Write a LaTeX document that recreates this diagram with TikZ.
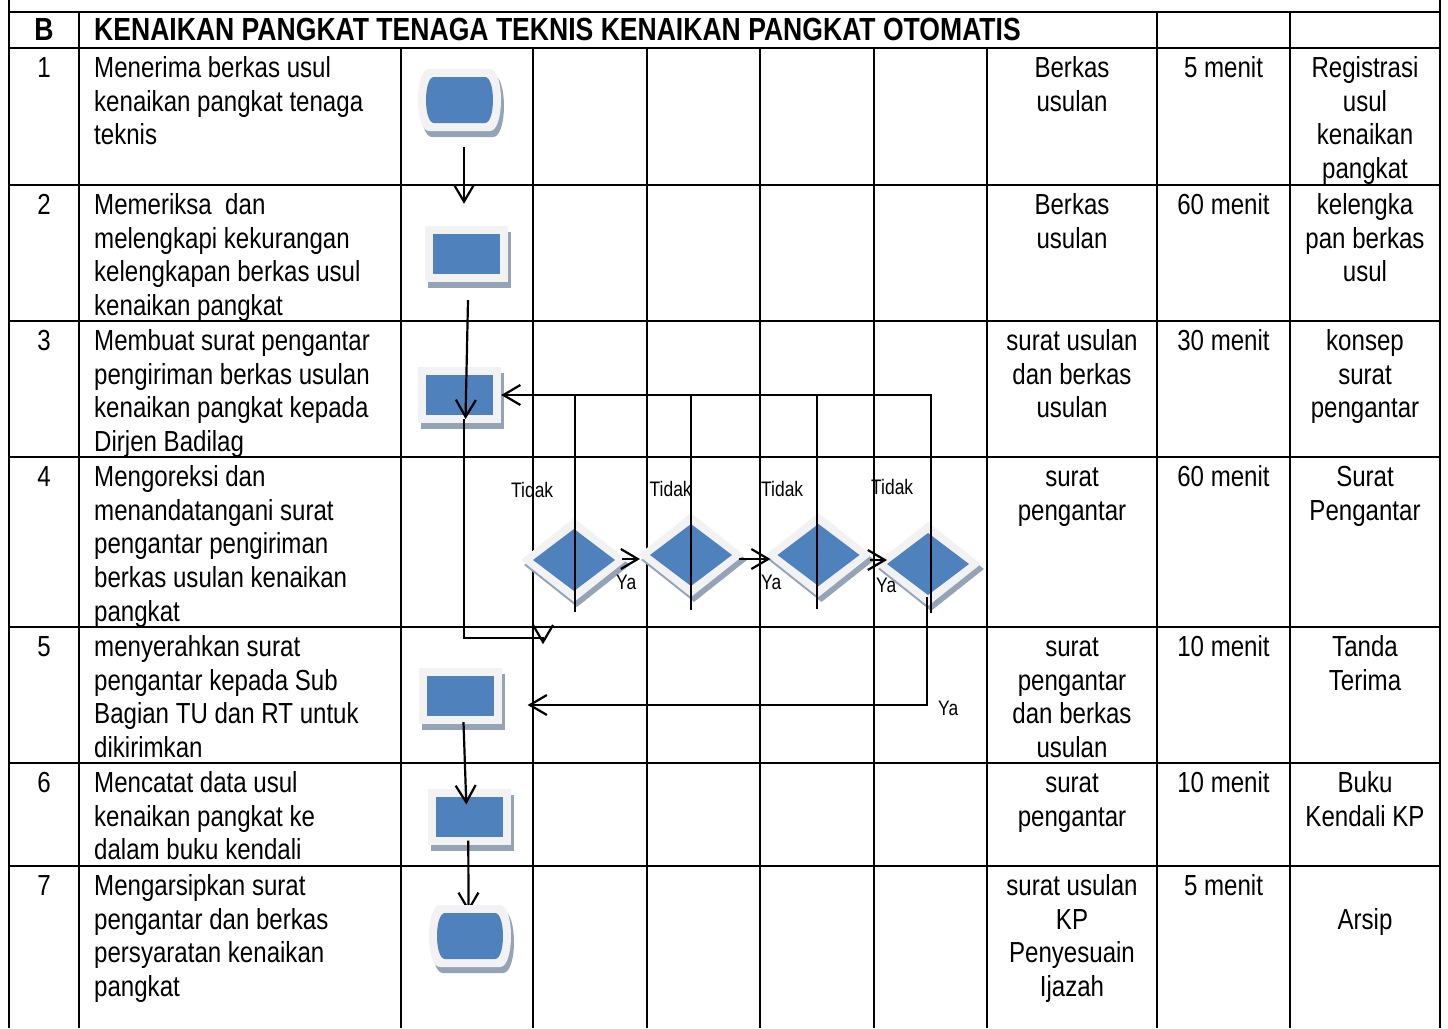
\documentclass[tikz,border=0pt]{standalone}
\usepackage{fontspec}
\setmainfont{Liberation Sans}[FakeStretch=0.83]
\usetikzlibrary{calc,shapes.geometric,shadows,arrows.meta}
\definecolor{shapeblue}{HTML}{4F81BD}
\definecolor{edgec}{HTML}{F2F2F2}
\definecolor{shadowc}{RGB}{149,163,182}
\newcommand\bodyfont{\fontsize{29pt}{33.8pt}\selectfont}
\newcommand\smallfont{\fontsize{21pt}{24pt}\selectfont}
\newcommand\headfont{\fontsize{32pt}{36pt}\selectfont\bfseries}
\newcommand\fl{\rule{0pt}{25pt}}
\newcommand\termfig[4]{%
  \fill[shadowc,shift={(3,6)}] ({#1+11},#2) -- ({#3-11},#2) .. controls ({#3+11/3},#2) and ({#3+11/3},#4) .. ({#3-11},#4) -- ({#1+11},#4) .. controls ({#1-11/3},#4) and ({#1-11/3},#2) .. ({#1+11},#2) -- cycle;
  \fill[edgec] ({#1+11},#2) -- ({#3-11},#2) .. controls ({#3+11/3},#2) and ({#3+11/3},#4) .. ({#3-11},#4) -- ({#1+11},#4) .. controls ({#1-11/3},#4) and ({#1-11/3},#2) .. ({#1+11},#2) -- cycle;
  \fill[shapeblue] ({#1+16},{#2+8}) -- ({#3-16},{#2+8}) .. controls ({#3-8+8/3},{#2+8}) and ({#3-8+8/3},{#4-8}) .. ({#3-16},{#4-8}) -- ({#1+16},{#4-8}) .. controls ({#1+8-8/3},{#4-8}) and ({#1+8-8/3},{#2+8}) .. ({#1+16},{#2+8}) -- cycle;
}
\tikzset{
  tbl/.style={line width=2.7pt},
  con/.style={line width=2.2pt,-{Straight Barb[length=17pt,width=20pt]}},
  conl/.style={line width=2.2pt},
  txtL/.style={anchor=north west,inner sep=0pt,align=left,font=\bodyfont},
  txtC/.style={anchor=north,inner sep=0pt,align=center,font=\bodyfont},
  lbl/.style={anchor=base west,inner sep=0pt,font=\smallfont},
  anchorbox/.style={rectangle,inner sep=0pt,minimum width=#1},
  procbox/.style={rectangle,inner sep=0pt,minimum width=83pt,minimum height=56pt,fill=edgec,
    drop shadow={shadow xshift=3pt,shadow yshift=-6pt,opacity=1,fill=shadowc},
    path picture={\fill[shapeblue] ([shift={(8pt,8pt)}]path picture bounding box.south west) rectangle ([shift={(-8pt,-8pt)}]path picture bounding box.north east);}},
  decbox/.style={diamond,inner sep=0pt,minimum width=106pt,minimum height=84pt,fill=edgec,
    drop shadow={shadow xshift=3pt,shadow yshift=-5pt,opacity=1,fill=shadowc},
    path picture={\fill[shapeblue] ([xshift=-41pt]path picture bounding box.center) -- ([yshift=31pt]path picture bounding box.center) -- ([xshift=41pt]path picture bounding box.center) -- ([yshift=-31pt]path picture bounding box.center) -- cycle;}},
}
\begin{document}
\begin{tikzpicture}[x=1pt,y=-1pt]
\useasboundingbox (0,0) rectangle (1448,1028);
\fill[white] (0,0) rectangle (1448,1028);
% table
\foreach \y in {12,48,185,321,457,627,763,866} \draw[tbl] (9,\y) -- (1440,\y);
\draw[tbl] (9,0) -- (9,1028);
\draw[tbl] (1440,0) -- (1440,1028);
\foreach \x in {79,1157,1290} \draw[tbl] (\x,12) -- (\x,1028);
\foreach \x in {401,533,647,760,874,987} \draw[tbl] (\x,48) -- (\x,1028);
% header
\node[anchor=base,inner sep=0pt,font=\headfont] (hb) at (44,40) {B};
\node[anchor=base west,inner sep=0pt,font=\headfont] (hd) at (94,40) {KENAIKAN PANGKAT TENAGA TEKNIS KENAIKAN PANGKAT OTOMATIS};
% numbers
\node[txtC] (k1) at (44,52) {\fl 1};
\node[txtC] (k2) at (44,189) {\fl 2};
\node[txtC] (k3) at (44,325) {\fl 3};
\node[txtC] (k4) at (44,461) {\fl 4};
\node[txtC] (k5) at (44,631) {\fl 5};
\node[txtC] (k6) at (44,767) {\fl 6};
\node[txtC] (k7) at (44,870) {\fl 7};
% descriptions
\node[txtL] (n1) at (94,52) {\fl Menerima berkas usul\\kenaikan pangkat tenaga\\teknis};
\node[txtL] (n2) at (94,189) {\fl Memeriksa~~dan\\melengkapi kekurangan\\kelengkapan berkas usul\\kenaikan pangkat};
\node[txtL] (n3) at (94,325) {\fl Membuat surat pengantar\\pengiriman berkas usulan\\kenaikan pangkat kepada\\Dirjen Badilag};
\node[txtL] (n4) at (94,461) {\fl Mengoreksi dan\\menandatangani surat\\pengantar pengiriman\\berkas usulan kenaikan\\pangkat};
\node[txtL] (n5) at (94,631) {\fl menyerahkan surat\\pengantar kepada Sub\\Bagian TU dan RT untuk\\dikirimkan};
\node[txtL] (n6) at (94,767) {\fl Mencatat data usul\\kenaikan pangkat ke\\dalam buku kendali};
\node[txtL] (n7) at (94,870) {\fl Mengarsipkan surat\\pengantar dan berkas\\persyaratan kenaikan\\pangkat};
% kelengkapan
\node[txtC] (p1) at (1072,52) {\fl Berkas\\usulan};
\node[txtC] (p2) at (1072,189) {\fl Berkas\\usulan};
\node[txtC] (p3) at (1072,325) {\fl surat usulan\\dan berkas\\usulan};
\node[txtC] (p4) at (1072,461) {\fl surat\\pengantar};
\node[txtC] (p5) at (1072,631) {\fl surat\\pengantar\\dan berkas\\usulan};
\node[txtC] (p6) at (1072,767) {\fl surat\\pengantar};
\node[txtC] (p7) at (1072,870) {\fl surat usulan\\KP\\Penyesuain\\Ijazah};
% waktu
\node[txtC] (w1) at (1223.5,52) {\fl 5 menit};
\node[txtC] (w2) at (1223.5,189) {\fl 60 menit};
\node[txtC] (w3) at (1223.5,325) {\fl 30 menit};
\node[txtC] (w4) at (1223.5,461) {\fl 60 menit};
\node[txtC] (w5) at (1223.5,631) {\fl 10 menit};
\node[txtC] (w6) at (1223.5,767) {\fl 10 menit};
\node[txtC] (w7) at (1223.5,870) {\fl 5 menit};
% output
\node[txtC] (o1) at (1365,52) {\fl Registrasi\\usul\\kenaikan\\pangkat};
\node[txtC] (o2) at (1365,189) {\fl kelengka\\pan berkas\\usul};
\node[txtC] (o3) at (1365,325) {\fl konsep\\surat\\pengantar};
\node[txtC] (o4) at (1365,461) {\fl Surat\\Pengantar};
\node[txtC] (o5) at (1365,631) {\fl Tanda\\Terima};
\node[txtC] (o6) at (1365,767) {\fl Buku\\Kendali KP};
\node[txtC] (o7) at (1365,904) {\fl Arsip};
% shapes
\termfig{418}{69}{501}{131}
\node[anchorbox=83pt,minimum height=62pt] (t1) at (459.5,100) {};
\node[procbox] (r2) at (466,254) {};
\node[procbox] (r3) at (459.5,395) {};
\node[procbox] (r5) at (460,696) {};
\node[procbox] (r6) at (469.3,816.5) {};
\node[anchorbox=82pt,minimum height=62pt] (t7) at (470,936) {};
\draw[con] ($(r6.south)+(-1,-4)$) -- ($(t7.north)+(-1.5,7)$);
\termfig{429}{905}{511}{967}
\node[decbox] (d1) at (574,560) {};
\node[decbox] (d2) at (691,555) {};
\node[decbox] (d3) at (818.5,555) {};
\node[decbox] (d4) at (928,564) {};
% connectors
\draw[con] ($(t1.south)+(4.5,16)$) -- ($(r2.north)+(-2,-22)$);
\draw[con] ($(r2.south)+(2,18)$) -- ($(r3.center)+(6,24)$);
\draw[con] ($(r3.center)+(4.5,24)$) |- ($(d1.south)+(-31,36)$) -- ($(d1.south)+(-31,42)$);
\draw[conl] ($(d1.center)+(1,52)$) -- ($(d1.center |- r3.east)+(1,0)$);
\draw[conl] ($(d2.center)+(0,55)$) -- (d2.center |- r3.east);
\draw[conl] ($(d3.center)+(-1.5,54)$) -- ($(d3.center |- r3.east)+(-1.5,0)$);
\draw[con] ($(d4.center)+(3,49)$) |- (r3.east);
\draw[con] ($(d1.center)+(48,-1)$) -- ($(d2.center)+(-51,4)$);
\draw[con] ($(d2.center)+(48,4)$) -- ($(d3.center)+(-48,4)$);
\draw[con] ($(d3.center)+(51,5)$) -- ($(d4.center)+(-41,-4)$);
\draw[con] ($(d4.center)+(-1,33)$) |- ($(r5.east)+(26,9)$);
\draw[con] ($(r5.south)+(3.5,-2)$) -- ($(r6.center)+(-3,-12)$);
% labels
\node[lbl] (l1) at (511,497) {Tidak};
\node[lbl] (l2) at (649.5,496) {Tidak};
\node[lbl] (l3) at (761,496) {Tidak};
\node[lbl] (l4) at (871,494) {Tidak};
\node[lbl] (y1) at (616,589) {Ya};
\node[lbl] (y2) at (761,589) {Ya};
\node[lbl] (y3) at (876,592) {Ya};
\node[lbl] (y4) at (938,715) {Ya};
\end{tikzpicture}
\end{document}
